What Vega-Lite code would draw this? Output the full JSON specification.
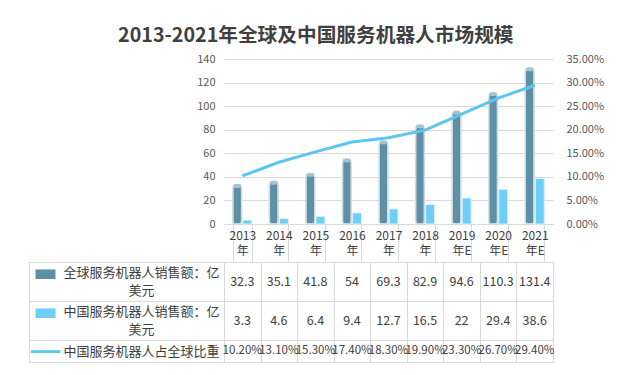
{
  "$schema": "https://vega.github.io/schema/vega-lite/v6.json",
  "background": "white",
  "padding": {"left": 28, "top": 26, "right": 10, "bottom": 5},
  "config": {
    "font": "Noto Sans CJK SC",
    "view": {"stroke": "#d9d9d9"},
    "axis": {"labelFont": "Noto Sans CJK SC", "titleFont": "Noto Sans CJK SC"},
    "axisLeft": {"labelOverlap": false}
  },
  "title": {
    "text": "2013-2021年全球及中国服务机器人市场规模",
    "fontSize": 19.7,
    "fontWeight": "bold",
    "color": "#404040",
    "anchor": "middle",
    "offset": 7
  },
  "datasets": {
    "main": [
      {"year": "2013年", "global": 32.3, "china": 3.3, "ratio": 0.102},
      {"year": "2014年", "global": 35.1, "china": 4.6, "ratio": 0.131},
      {"year": "2015年", "global": 41.8, "china": 6.4, "ratio": 0.153},
      {"year": "2016年", "global": 54, "china": 9.4, "ratio": 0.174},
      {"year": "2017年", "global": 69.3, "china": 12.7, "ratio": 0.183},
      {"year": "2018年", "global": 82.9, "china": 16.5, "ratio": 0.199},
      {"year": "2019年E", "global": 94.6, "china": 22, "ratio": 0.233},
      {"year": "2020年E", "global": 110.3, "china": 29.4, "ratio": 0.267},
      {"year": "2021年E", "global": 131.4, "china": 38.6, "ratio": 0.294}
    ]
  },
  "spacing": 0,
  "bounds": "flush",
  "resolve": {"scale": {"x": "independent", "y": "independent"}},
  "vconcat": [
    {
      "width": 329,
      "height": 165,
      "view": {"stroke": null},
      "data": {"name": "main"},
      "layer": [
        {
          "layer": [
            {
              "mark": {"type": "bar", "color": "#5E8FA7", "stroke": "#cfdce3", "strokeWidth": 1.5, "cornerRadius": 3},
              "encoding": {
                "x": {
                  "field": "year", "type": "nominal", "sort": null,
                  "scale": {"paddingInner": 0.48, "paddingOuter": 0.24},
                  "axis": {
                    "title": null,
                    "labelAngle": 0,
                    "labelExpr": "[substring(datum.label,0,4), substring(datum.label,4)]",
                    "labelFontSize": 12,
                    "labelColor": "#404040",
                    "labelBaseline": "top",
                    "labelLineHeight": 15,
                    "labelOverlap": false,
                    "tickBand": "extent",
                    "tickSize": 38,
                    "tickColor": "#d9d9d9",
                    "domainColor": "#d9d9d9",
                    "labelPadding": -32,
                    "grid": false
                  }
                },
                "xOffset": {"datum": "global", "type": "nominal", "scale": {"domain": ["global", "china"], "paddingInner": 0.12}},
                "y": {
                  "field": "global", "type": "quantitative",
                  "scale": {"domain": [0, 140], "nice": false},
                  "axis": {
                    "title": null,
                    "values": [0, 20, 40, 60, 80, 100, 120, 140],
                    "tickCount": 8,
                    "labelOverlap": false,
                    "grid": true, "gridColor": "#d9d9d9",
                    "domain": false, "ticks": false,
                    "labelColor": "#595959", "labelFontSize": 11, "labelPadding": 9
                  }
                }
              }
            },
            {
              "mark": {"type": "bar", "color": "#6DCFF6", "stroke": "#d6f1fc", "strokeWidth": 1},
              "encoding": {
                "x": {"field": "year", "type": "nominal", "sort": null},
                "xOffset": {"datum": "china", "type": "nominal"},
                "y": {
                  "field": "china", "type": "quantitative",
                  "axis": {
                    "title": null,
                    "values": [0, 20, 40, 60, 80, 100, 120, 140],
                    "tickCount": 8,
                    "labelOverlap": false,
                    "grid": true, "gridColor": "#d9d9d9",
                    "domain": false, "ticks": false,
                    "labelColor": "#595959", "labelFontSize": 11, "labelPadding": 9
                  }
                }
              }
            },
            {
              "mark": {"type": "point", "filled": true, "opacity": 1, "color": "#A9C3D0", "size": 70, "shape": "M-1,0A1,0.5,0,1,1,1,0A1,0.5,0,1,1,-1,0Z"},
              "encoding": {
                "x": {"field": "year", "type": "nominal", "sort": null},
                "xOffset": {"datum": "global", "type": "nominal"},
                "y": {
                  "field": "global", "type": "quantitative",
                  "axis": {
                    "title": null,
                    "values": [0, 20, 40, 60, 80, 100, 120, 140],
                    "tickCount": 8,
                    "labelOverlap": false,
                    "grid": true, "gridColor": "#d9d9d9",
                    "domain": false, "ticks": false,
                    "labelColor": "#595959", "labelFontSize": 11, "labelPadding": 9
                  }
                }
              }
            }
          ]
        },
        {
          "mark": {"type": "line", "color": "#5BC6F2", "strokeWidth": 3},
          "encoding": {
            "x": {"field": "year", "type": "nominal", "sort": null},
            "y": {
              "field": "ratio", "type": "quantitative",
              "scale": {"domain": [0, 0.35], "nice": false},
              "axis": {
                "orient": "right", "title": null, "format": ".2%",
                "values": [0, 0.05, 0.1, 0.15, 0.2, 0.25, 0.3, 0.35],
                "labelOverlap": false,
                "grid": false, "domain": false, "ticks": false,
                "labelColor": "#595959", "labelFontSize": 11, "labelPadding": 13
              }
            }
          }
        }
      ],
      "resolve": {"scale": {"y": "independent"}}
    },
    {
      "width": 329,
      "height": 38,
      "view": {"stroke": null},
      "data": {"values": [{}]},
      "mark": {"type": "text", "text": ""},
      "encoding": {}
    },
    {
      "width": 329,
      "height": 39,
      "data": {"name": "main"},
      "mark": {"type": "text", "fontSize": 12.5, "color": "#404040"},
      "encoding": {
        "x": {
          "field": "year", "type": "nominal", "sort": null,
          "scale": {"type": "band", "paddingInner": 0, "paddingOuter": 0},
          "axis": {"title": null, "labels": false, "ticks": false, "domain": false, "grid": true, "gridColor": "#d9d9d9", "tickBand": "extent"}
        },
        "y": {
          "datum": "全球服务机器人销售额：亿美元", "type": "nominal",
          "scale": {"type": "band", "paddingInner": 0, "paddingOuter": 0},
          "axis": {
            "title": "▬", "titleAngle": 0, "titleX": 16, "titleY": 10,
            "titleColor": "#5E8FA7", "titleFont": "DejaVu Sans", "titleFontSize": 26, "titleFontWeight": "normal",
            "titleAlign": "center", "titleBaseline": "middle",
            "offset": 195, "tickSize": -195, "tickBand": "extent",
            "tickColor": "#d9d9d9", "domainColor": "#d9d9d9",
            "labelExpr": "[substring(datum.label,0,12), substring(datum.label,12)]",
            "labelAlign": "center", "labelBaseline": "middle", "labelPadding": 83, "labelOffset": -9,
            "labelFontSize": 13, "labelColor": "#404040", "labelLineHeight": 18, "labelLimit": 400
          }
        },
        "text": {"field": "global", "type": "nominal"}
      }
    },
    {
      "width": 329,
      "height": 39,
      "data": {"name": "main"},
      "mark": {"type": "text", "fontSize": 12.5, "color": "#404040"},
      "encoding": {
        "x": {
          "field": "year", "type": "nominal", "sort": null,
          "scale": {"type": "band", "paddingInner": 0, "paddingOuter": 0},
          "axis": {"title": null, "labels": false, "ticks": false, "domain": false, "grid": true, "gridColor": "#d9d9d9", "tickBand": "extent"}
        },
        "y": {
          "datum": "中国服务机器人销售额：亿美元", "type": "nominal",
          "scale": {"type": "band", "paddingInner": 0, "paddingOuter": 0},
          "axis": {
            "title": "▬", "titleAngle": 0, "titleX": 16, "titleY": 10,
            "titleColor": "#6DCFF6", "titleFont": "DejaVu Sans", "titleFontSize": 26, "titleFontWeight": "normal",
            "titleAlign": "center", "titleBaseline": "middle",
            "offset": 195, "tickSize": -195, "tickBand": "extent",
            "tickColor": "#d9d9d9", "domainColor": "#d9d9d9",
            "labelExpr": "[substring(datum.label,0,12), substring(datum.label,12)]",
            "labelAlign": "center", "labelBaseline": "middle", "labelPadding": 83, "labelOffset": -9,
            "labelFontSize": 13, "labelColor": "#404040", "labelLineHeight": 18, "labelLimit": 400
          }
        },
        "text": {"field": "china", "type": "nominal"}
      }
    },
    {
      "width": 329,
      "height": 22,
      "data": {"name": "main"},
      "mark": {"type": "text", "fontSize": 11.5, "color": "#404040"},
      "encoding": {
        "x": {
          "field": "year", "type": "nominal", "sort": null,
          "scale": {"type": "band", "paddingInner": 0, "paddingOuter": 0},
          "axis": {"title": null, "labels": false, "ticks": false, "domain": false, "grid": true, "gridColor": "#d9d9d9", "tickBand": "extent"}
        },
        "y": {
          "datum": "中国服务机器人占全球比重", "type": "nominal",
          "scale": {"type": "band", "paddingInner": 0, "paddingOuter": 0},
          "axis": {
            "title": "━━━", "titleAngle": 0, "titleX": 16, "titleY": 11,
            "titleColor": "#5BC6F2", "titleFont": "DejaVu Sans", "titleFontSize": 16, "titleFontWeight": "normal",
            "titleAlign": "center", "titleBaseline": "middle",
            "offset": 195, "tickSize": -195, "tickBand": "extent",
            "tickColor": "#d9d9d9", "domainColor": "#d9d9d9",
            "labelAlign": "center", "labelBaseline": "middle", "labelPadding": 83,
            "labelFontSize": 13, "labelColor": "#404040", "labelLimit": 400
          }
        },
        "text": {"field": "ratio", "type": "quantitative", "format": ".2%"}
      }
    }
  ]
}
